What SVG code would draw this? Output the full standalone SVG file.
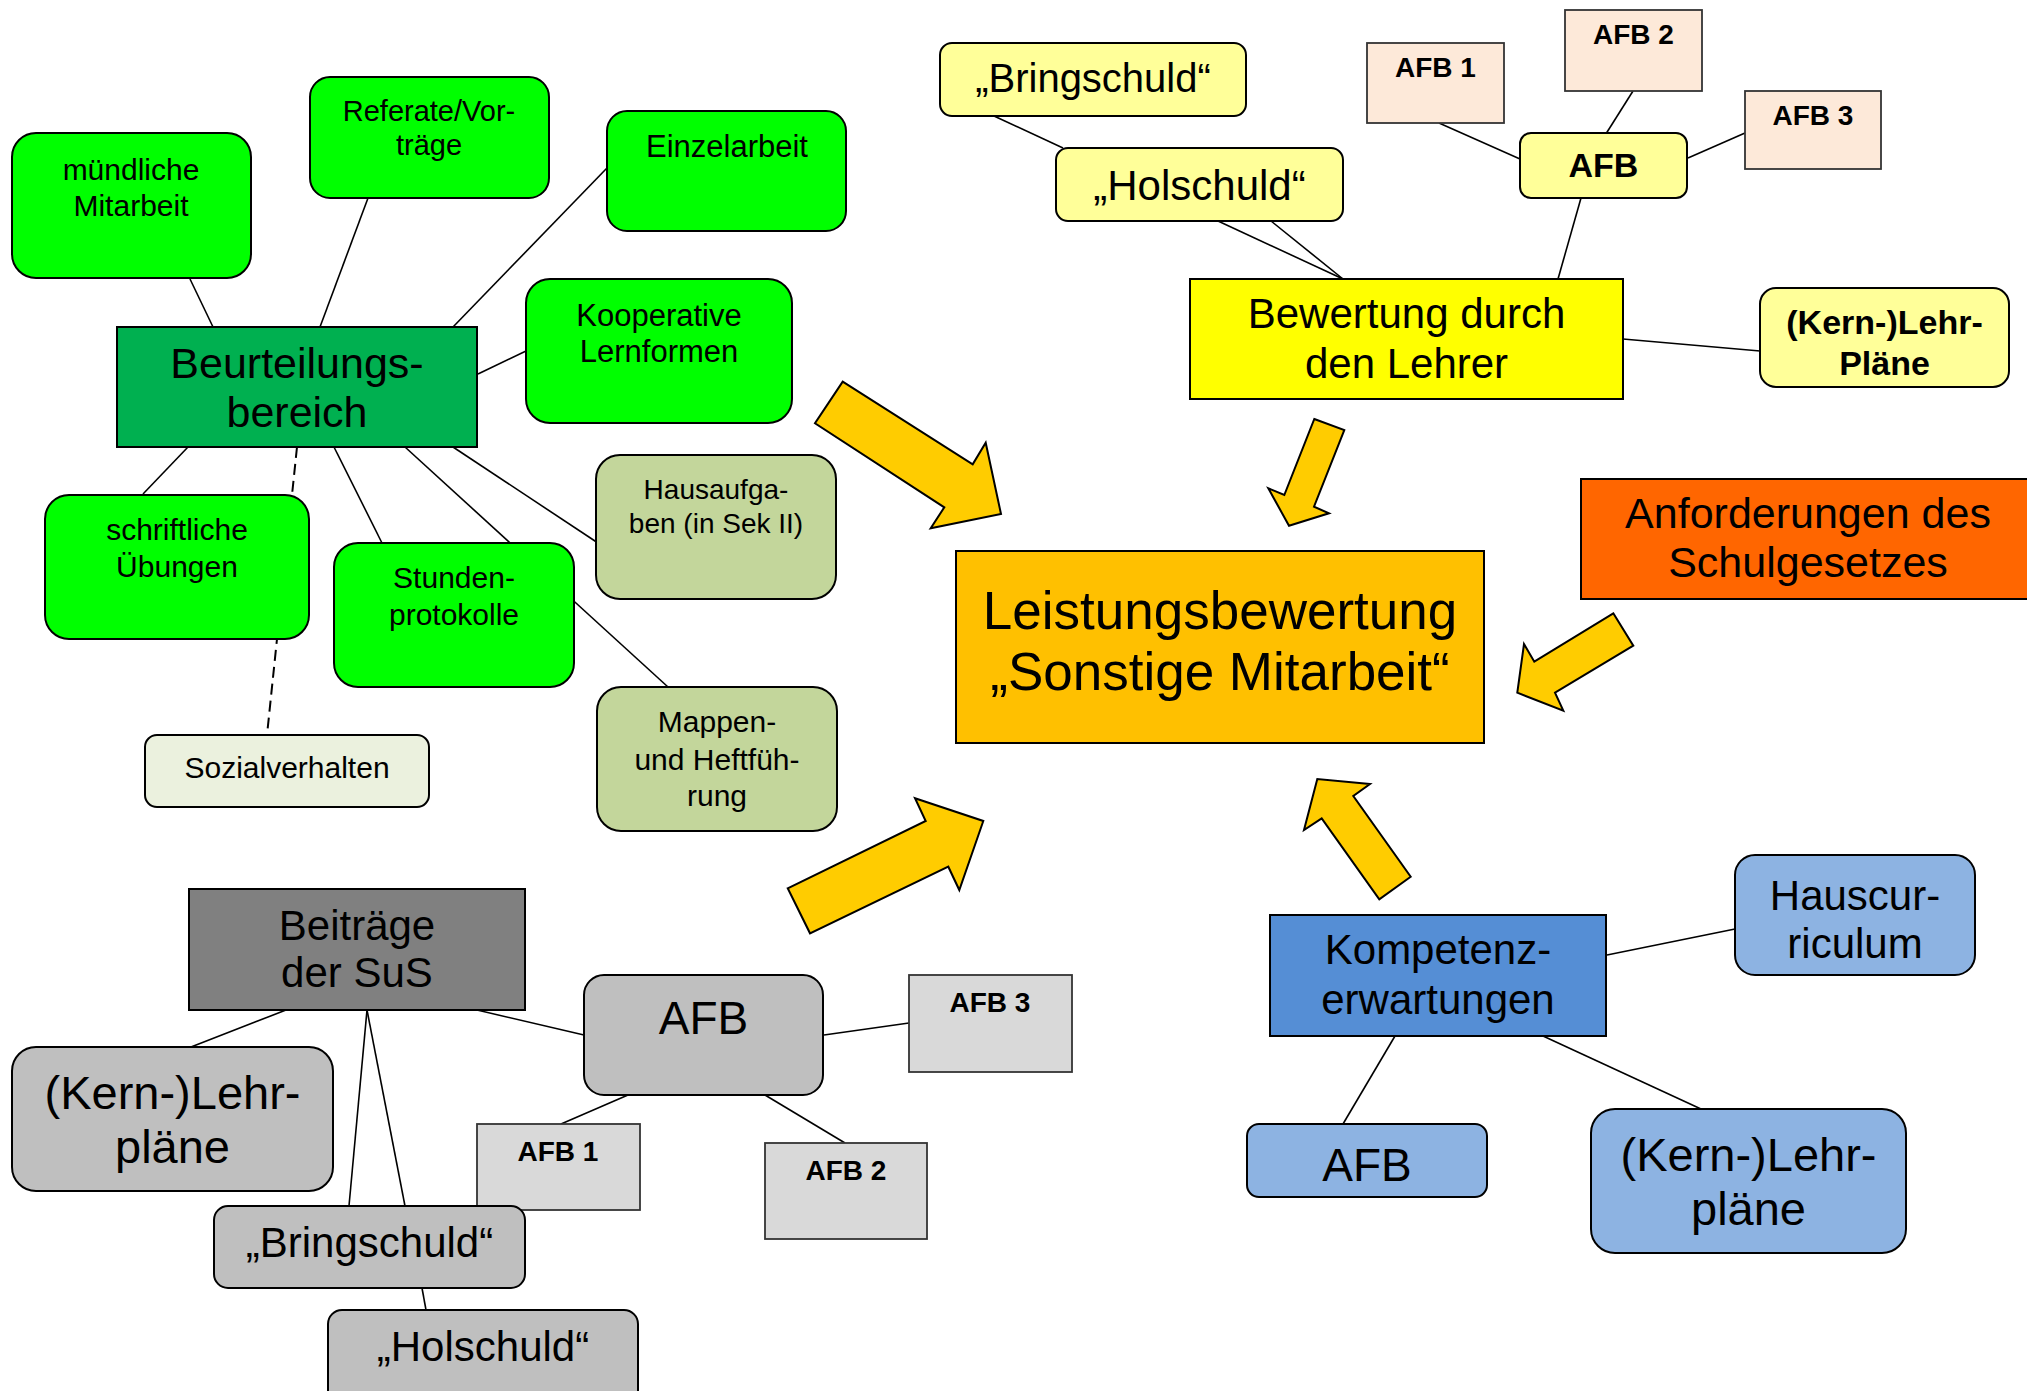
<svg xmlns="http://www.w3.org/2000/svg" width="2027" height="1391" viewBox="0 0 2027 1391">
<style>
  .bx{stroke:#000;stroke-width:2}
  .sq{stroke:#333;stroke-width:1.8}
  .ln{stroke:#000;stroke-width:1.6;fill:none}
  .ds{stroke-dasharray:11 6;stroke-width:2}
  .t{font-family:"Liberation Sans",Arial,sans-serif;fill:#000;text-anchor:middle}
  .b{font-weight:bold}
  .arr{fill:#FFCC00;stroke:#000;stroke-width:2;stroke-linejoin:miter}
  .g1{fill:#00FF00}.g2{fill:#00B050}.ol{fill:#C3D69B}.pl{fill:#EBF1DE}
  .gr1{fill:#808080}.gr2{fill:#BFBFBF}.gr3{fill:#D9D9D9}
  .y1{fill:#FFFF99}.y2{fill:#FFFF00}.pe{fill:#FDE9D9}
  .or1{fill:#FFC000}.or2{fill:#FF6600}
  .bl1{fill:#558ED5}.bl2{fill:#8DB3E2}
</style>
<rect width="2027" height="1391" fill="#fff"/>
<g id="connectors">
  <line class="ln" x1="213" y1="327" x2="190" y2="279"/>
  <line class="ln" x1="320" y1="327" x2="368" y2="198"/>
  <line class="ln" x1="453" y1="327" x2="607" y2="168"/>
  <line class="ln" x1="478" y1="374" x2="526" y2="351"/>
  <line class="ln" x1="188" y1="447" x2="143" y2="494"/>
  <line class="ln ds" x1="297" y1="447" x2="267" y2="735"/>
  <line class="ln" x1="334" y1="447" x2="382" y2="543"/>
  <line class="ln" x1="405" y1="447" x2="668" y2="687"/>
  <line class="ln" x1="453" y1="447" x2="598" y2="543"/>
  <line class="ln" x1="286" y1="1010" x2="191" y2="1047"/>
  <line class="ln" x1="367" y1="1010" x2="349" y2="1206"/>
  <line class="ln" x1="367" y1="1010" x2="405" y2="1206"/>
  <line class="ln" x1="477" y1="1010" x2="584" y2="1035"/>
  <line class="ln" x1="824" y1="1035" x2="909" y2="1023"/>
  <line class="ln" x1="628" y1="1095" x2="561" y2="1124"/>
  <line class="ln" x1="765" y1="1095" x2="845" y2="1143"/>
  <line class="ln" x1="422" y1="1288" x2="426" y2="1310"/>
  <line class="ln" x1="994" y1="116" x2="1063" y2="148"/>
  <line class="ln" x1="1218" y1="221" x2="1343" y2="279"/>
  <line class="ln" x1="1271" y1="221" x2="1343" y2="279"/>
  <line class="ln" x1="1439" y1="123" x2="1520" y2="159"/>
  <line class="ln" x1="1633" y1="91" x2="1606.5" y2="133"/>
  <line class="ln" x1="1688" y1="158" x2="1745" y2="133"/>
  <line class="ln" x1="1581" y1="198" x2="1558" y2="279"/>
  <line class="ln" x1="1623" y1="339" x2="1760" y2="351"/>
  <line class="ln" x1="1607" y1="955" x2="1735" y2="929"/>
  <line class="ln" x1="1395" y1="1036" x2="1343" y2="1124"/>
  <line class="ln" x1="1543" y1="1036" x2="1701" y2="1109"/>
</g>
<g id="n-muendlich"><rect class="bx g1" x="12" y="133" width="239" height="145" rx="24"/><text class="t" font-size="30" x="131" y="180">mündliche</text><text class="t" font-size="30" x="131" y="216">Mitarbeit</text></g>
<g id="n-referate"><rect class="bx g1" x="310" y="77" width="239" height="121" rx="20"/><text class="t" font-size="29" x="429" y="121">Referate/Vor-</text><text class="t" font-size="29" x="429" y="155">träge</text></g>
<g id="n-einzel"><rect class="bx g1" x="607" y="111" width="239" height="120" rx="20"/><text class="t" font-size="31" x="727" y="157">Einzelarbeit</text></g>
<g id="n-koop"><rect class="bx g1" x="526" y="279" width="266" height="144" rx="24"/><text class="t" font-size="31" x="659" y="326">Kooperative</text><text class="t" font-size="31" x="659" y="362">Lernformen</text></g>
<g id="n-beurteil"><rect class="bx g2" x="117" y="327" width="360" height="120"/><text class="t" font-size="43" x="297" y="378">Beurteilungs-</text><text class="t" font-size="43" x="297" y="427">bereich</text></g>
<g id="n-schrift"><rect class="bx g1" x="45" y="495" width="264" height="144" rx="24"/><text class="t" font-size="30" x="177" y="540">schriftliche</text><text class="t" font-size="30" x="177" y="577">Übungen</text></g>
<g id="n-stunden"><rect class="bx g1" x="334" y="543" width="240" height="144" rx="24"/><text class="t" font-size="30" x="454" y="588">Stunden-</text><text class="t" font-size="30" x="454" y="625">protokolle</text></g>
<g id="n-haus"><rect class="bx ol" x="596" y="455" width="240" height="144" rx="24"/><text class="t" font-size="28" x="716" y="499">Hausaufga-</text><text class="t" font-size="28" x="716" y="533">ben (in Sek II)</text></g>
<g id="n-mappen"><rect class="bx ol" x="597" y="687" width="240" height="144" rx="24"/><text class="t" font-size="30" x="717" y="732">Mappen-</text><text class="t" font-size="30" x="717" y="770">und Heftfüh-</text><text class="t" font-size="30" x="717" y="806">rung</text></g>
<g id="n-sozial"><rect class="bx pl" x="145" y="735" width="284" height="72" rx="12"/><text class="t" font-size="30" x="287" y="778">Sozialverhalten</text></g>
<g id="n-beitraege"><rect class="bx gr1" x="189" y="889" width="336" height="121"/><text class="t" font-size="42" x="357" y="940">Beiträge</text><text class="t" font-size="42" x="357" y="987">der SuS</text></g>
<g id="n-afb-grey"><rect class="bx gr2" x="584" y="975" width="239" height="120" rx="20"/><text class="t" font-size="46" x="703.5" y="1034">AFB</text></g>
<g id="n-afb3-grey"><rect class="sq gr3" x="909" y="975" width="163" height="97"/><text class="t b" font-size="28" x="990" y="1012">AFB 3</text></g>
<g id="n-afb1-grey"><rect class="sq gr3" x="477" y="1124" width="163" height="86"/><text class="t b" font-size="28" x="558" y="1161">AFB 1</text></g>
<g id="n-afb2-grey"><rect class="sq gr3" x="765" y="1143" width="162" height="96"/><text class="t b" font-size="28" x="846" y="1180">AFB 2</text></g>
<g id="n-kern-grey"><rect class="bx gr2" x="12" y="1047" width="321" height="144" rx="24"/><text class="t" font-size="47" x="172.5" y="1109">(Kern-)Lehr-</text><text class="t" font-size="47" x="172.5" y="1163">pläne</text></g>
<g id="n-bring-grey"><rect class="bx gr2" x="214" y="1206" width="311" height="82" rx="14"/><text class="t" font-size="42" x="369.5" y="1257">„Bringschuld“</text></g>
<g id="n-hol-grey"><rect class="bx gr2" x="328" y="1310" width="310" height="100" rx="14"/><text class="t" font-size="42" x="483" y="1361">„Holschuld“</text></g>
<g id="n-bring-yellow"><rect class="bx y1" x="940" y="43" width="306" height="73" rx="12"/><text class="t" font-size="40" x="1093" y="92">„Bringschuld“</text></g>
<g id="n-hol-yellow"><rect class="bx y1" x="1056" y="148" width="287" height="73" rx="12"/><text class="t" font-size="42" x="1199.5" y="200">„Holschuld“</text></g>
<g id="n-afb1-peach"><rect class="sq pe" x="1367" y="43" width="137" height="80"/><text class="t b" font-size="28" x="1435.5" y="77">AFB 1</text></g>
<g id="n-afb2-peach"><rect class="sq pe" x="1565" y="10" width="137" height="81"/><text class="t b" font-size="28" x="1633.5" y="44">AFB 2</text></g>
<g id="n-afb3-peach"><rect class="sq pe" x="1745" y="91" width="136" height="78"/><text class="t b" font-size="28" x="1813" y="125">AFB 3</text></g>
<g id="n-afb-yellow"><rect class="bx y1" x="1520" y="133" width="167" height="65" rx="11"/><text class="t b" font-size="34" x="1603.5" y="177">AFB</text></g>
<g id="n-bewertung"><rect class="bx y2" x="1190" y="279" width="433" height="120"/><text class="t" font-size="42" x="1406.5" y="328">Bewertung durch</text><text class="t" font-size="42" x="1406.5" y="378">den Lehrer</text></g>
<g id="n-kern-yellow"><rect class="bx y1" x="1760" y="288" width="249" height="99" rx="16"/><text class="t b" font-size="34" x="1884.5" y="334">(Kern-)Lehr-</text><text class="t b" font-size="34" x="1884.5" y="375">Pläne</text></g>
<g id="n-leistung"><rect class="bx or1" x="956" y="551" width="528" height="192"/><text class="t" font-size="53" x="1220" y="629">Leistungsbewertung</text><text class="t" font-size="53" x="1220" y="690">„Sonstige Mitarbeit“</text></g>
<g id="n-anforderungen"><rect class="bx or2" x="1581" y="479" width="460" height="120"/><text class="t" font-size="43" x="1808" y="528">Anforderungen des</text><text class="t" font-size="43" x="1808" y="577">Schulgesetzes</text></g>
<g id="n-kompetenz"><rect class="bx bl1" x="1270" y="915" width="336" height="121"/><text class="t" font-size="42" x="1438" y="964">Kompetenz-</text><text class="t" font-size="42" x="1438" y="1014">erwartungen</text></g>
<g id="n-hauscurriculum"><rect class="bx bl2" x="1735" y="855" width="240" height="120" rx="20"/><text class="t" font-size="42" x="1855" y="910">Hauscur-</text><text class="t" font-size="42" x="1855" y="958">riculum</text></g>
<g id="n-afb-blue"><rect class="bx bl2" x="1247" y="1124" width="240" height="73" rx="12"/><text class="t" font-size="46" x="1367" y="1181">AFB</text></g>
<g id="n-kern-blue"><rect class="bx bl2" x="1591" y="1109" width="315" height="144" rx="24"/><text class="t" font-size="47" x="1748.5" y="1171">(Kern-)Lehr-</text><text class="t" font-size="47" x="1748.5" y="1225">pläne</text></g>
<g id="arrows">
  <polygon class="arr" points="842.7,381.7 972.7,464.3 985.7,442.7 1001,514 930.7,528.3 944.3,507.3 815,423.3"/>
  <polygon class="arr" points="1314.3,419 1344.3,430 1314,506.7 1329,513.3 1289,525.7 1268.3,488.3 1284.3,495"/>
  <polygon class="arr" points="1613.3,613.3 1633.3,645.7 1555,692.7 1563.3,710.7 1517.3,692.7 1524,644 1534.3,661.7"/>
  <polygon class="arr" points="787.7,888.3 925.7,821 915,798.3 983.3,821 959.3,890 948.3,866.7 810,933.3"/>
  <polygon class="arr" points="1410.7,876.7 1379.3,899.3 1321.7,818.3 1304,830 1317.3,779 1370,784 1353.3,796"/>
</g>
</svg>
